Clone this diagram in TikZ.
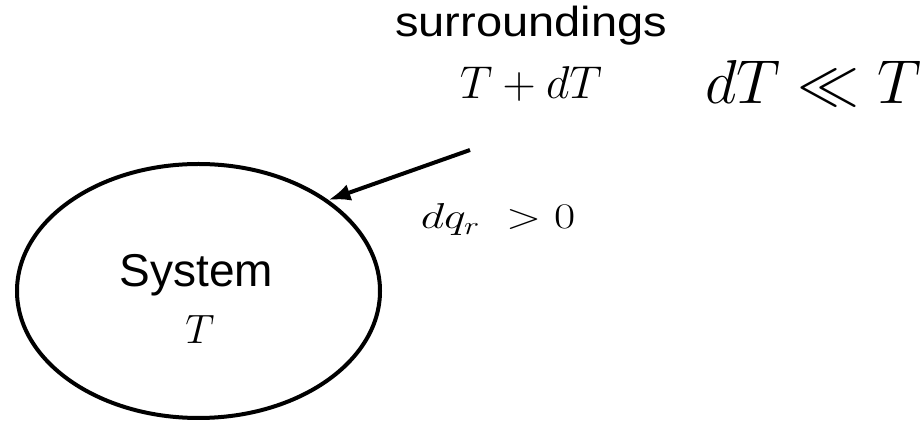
\RequirePackage{fix-cm}
\documentclass[tikz,border=0pt]{standalone}
\usepackage[no-math]{fontspec}
\setmainfont{Liberation Sans}
\usetikzlibrary{shapes.geometric,arrows.meta}
\tikzset{
  fsize/.style={font=\fontsize{#1}{#1}\selectfont},
}
\begin{document}
\begin{tikzpicture}[x=0.5pt,y=-0.5pt,every node/.style={inner sep=0pt}]
    \useasboundingbox (0,0) rectangle (921,421);
    \node[draw,ellipse,line width=2pt,minimum width=181.5pt,minimum height=127pt] (sys) at (198.5,291) {};
    \node[fsize=23,anchor=base] (systxt) at (196.5,287) {System};
    \node[fsize=20.5,anchor=base] (systemp) at (200,344) {$T$};
    \node[fsize=21,anchor=base] (surr) at (531,37) {\scalebox{1.12}[1]{surroundings}};
    \node[fsize=23,anchor=base] (surrtemp) at (531,99) {$T+dT$};
    \node[fsize=31,anchor=base] (cond) at (813,104) {$dT \ll T$};
    \node[fsize=18,anchor=base] (heat) at (498,229) {\scalebox{1.28}[1]{$dq_r\;>0$}};
    \coordinate (src) at (470,150);
    \draw[-{Latex[length=11pt,width=8.5pt]},line width=2pt] (src) -- (sys.35);
\end{tikzpicture}
\end{document}
